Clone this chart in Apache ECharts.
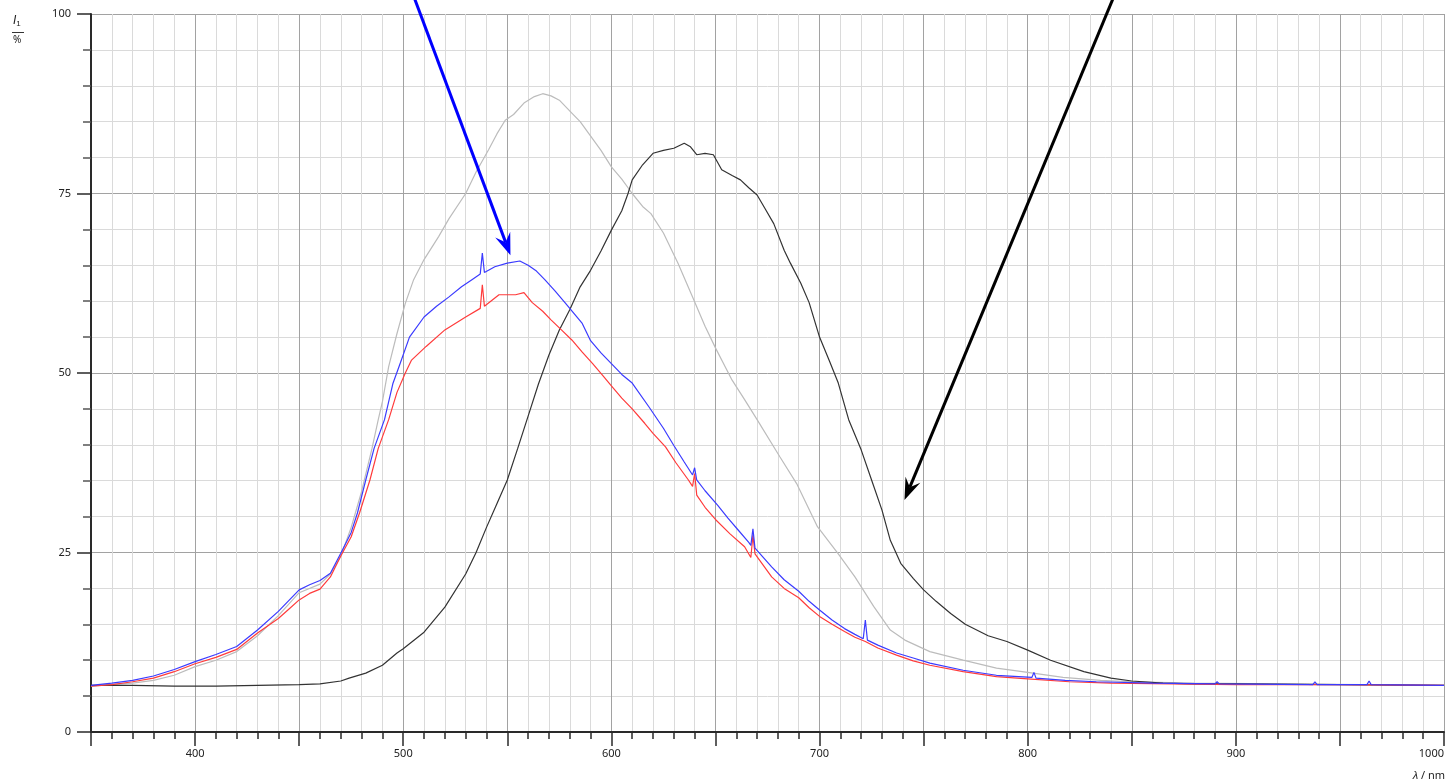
<!DOCTYPE html>
<html>
<head>
<meta charset="utf-8">
<script src="https://cdn.jsdelivr.net/npm/echarts@6/dist/echarts.min.js"></script>
<style>
  html, body { margin: 0; padding: 0; background: #fff; }
  #chart { width: 1447px; height: 783px; }
</style>
</head>
<body>
<div id="chart"></div>
<script>
// spectra: [wavelength nm, I1 %]
var darkSpec = [
  [350, 6.5], [370, 6.5], [390, 6.4], [410, 6.4], [430, 6.5], [450, 6.6], [460, 6.7], [470, 7.1],
  [474, 7.5], [482, 8.2], [490, 9.3], [497, 11], [500, 11.6], [510, 13.9], [520, 17.4], [530, 22], [535, 25], [540, 28.5],
  [545, 31.8], [550, 35.1], [555, 39.5], [560, 44], [565, 48.5], [570, 52.5], [575, 56], [580, 58.8],
  [585, 62], [590, 64.3], [595, 67], [600, 69.9], [605, 72.6], [608, 75], [610, 76.9], [615, 79],
  [620, 80.6], [625, 81], [630, 81.3], [635, 82], [638, 81.5], [641, 80.4], [645, 80.6], [649, 80.4],
  [653, 78.3], [658, 77.5], [662, 76.9], [666, 75.8], [670, 74.8], [674, 72.8], [678, 70.8], [683, 67.1],
  [686, 65.3], [691, 62.5], [695, 59.8], [700, 55], [705, 51.5], [709, 48.6], [714, 43.5], [720, 39.3],
  [725, 35.1], [730, 30.9], [734, 26.7], [739, 23.5], [745, 21.4], [750, 19.8], [756, 18.2], [763, 16.5],
  [770, 15], [781, 13.4], [790, 12.6], [800, 11.4], [811, 10], [827, 8.4], [840, 7.5],
  [850, 7.1], [865, 6.8], [880, 6.7], [900, 6.7], [950, 6.6], [1000, 6.5]
];
var graySpec = [
  [350, 6.4], [370, 6.8], [380, 7.2], [390, 7.9], [400, 9.1], [410, 10], [420, 11.2], [430, 13.4],
  [440, 16.2], [450, 19.4], [460, 20.6], [465, 22], [470, 24.5], [475, 28.5], [480, 33.5], [485, 39.5],
  [488, 43.5], [490, 46], [493, 50.9], [497, 55.5], [501, 59.7], [505, 63], [510, 65.8], [517, 69],
  [522, 71.5], [530, 75], [535, 78], [541, 81.1], [545, 83.3], [549, 85.2], [553, 86], [558, 87.6],
  [563, 88.5], [567, 88.9], [571, 88.6], [575, 88], [581, 86.2], [585, 85], [589, 83.4], [595, 81],
  [600, 78.7], [605, 77], [610, 75], [615, 73.2], [619, 72.2], [625, 69.5], [632, 65.3], [639, 60.6],
  [645, 56.5], [650, 53.5], [658, 49], [664, 46.3], [670, 43.5], [681, 38.3], [689, 34.6], [699, 28.6],
  [709, 24.8], [717, 21.6], [726, 17.5], [734, 14.2], [741, 12.8], [753, 11.2], [769, 10], [785, 8.9],
  [800, 8.3], [817, 7.6], [835, 7.2], [850, 7], [880, 6.8], [920, 6.7], [960, 6.6], [1000, 6.5]
];
var blueSpec = [
  [350, 6.5], [360, 6.8], [370, 7.2], [380, 7.8], [390, 8.7], [400, 9.8], [410, 10.8], [420, 11.9],
  [430, 14.2], [440, 16.8], [445, 18.3], [450, 19.8], [455, 20.5], [460, 21.1], [465, 22.1], [470, 24.9],
  [475, 27.8], [478, 30.5], [482, 35.1], [486, 39.5], [491, 43.5], [495, 48.5], [498, 50.9], [503, 55],
  [510, 57.8], [516, 59.3], [522, 60.6], [528, 62], [533, 63], [537, 63.8], [538, 66.7], [539, 64],
  [544, 64.8], [550, 65.3], [556, 65.6], [560, 65], [564, 64.2], [568, 63], [573, 61.4], [578, 59.7],
  [586, 56.9], [590, 54.5], [595, 52.8], [600, 51.3], [605, 49.8], [610, 48.6], [618, 45.3], [625, 42.3],
  [630, 39.9], [635, 37.6], [639, 35.8], [640, 36.8], [641, 35.1], [645, 33.6], [651, 31.6], [656, 29.8],
  [661, 28.1], [666, 26.4], [667, 26], [668, 28.3], [669, 25.6], [677, 23], [683, 21.2], [690, 19.6],
  [695, 18.2], [700, 17], [706, 15.6], [712, 14.4], [717, 13.6], [721, 13], [722, 15.6], [723, 12.8],
  [728, 12.1], [737, 11], [745, 10.3], [753, 9.6], [769, 8.6], [785, 7.9],
  [802, 7.6], [803, 8.3], [804, 7.5], [818, 7.2], [833, 7], [860, 6.8], [890, 6.7], [891, 7.0],
  [892, 6.7], [937, 6.6], [938, 7], [939, 6.6], [963, 6.6], [964, 7.1], [965, 6.6], [1000, 6.5]
];
var redSpec = [
  [350, 6.4], [360, 6.6], [370, 7], [380, 7.5], [390, 8.4], [400, 9.5], [410, 10.4], [420, 11.5],
  [430, 13.8], [440, 15.8], [445, 17.1], [450, 18.4], [455, 19.3], [460, 19.9], [465, 21.6], [470, 24.5],
  [475, 27.2], [479, 30.5], [484, 35.1], [488, 39.5], [493, 43.5], [497, 47.3], [501, 50], [504, 51.8],
  [511, 53.7], [520, 56], [530, 57.8], [537, 59], [538, 62.3], [539, 59.3], [546, 60.9], [554, 60.9],
  [558, 61.2], [562, 59.8], [567, 58.6], [571, 57.4], [576, 56], [581, 54.6], [586, 52.9], [591, 51.3],
  [596, 49.6], [600, 48.2], [605, 46.5], [610, 45], [616, 43], [620, 41.6], [626, 39.7], [631, 37.5],
  [637, 35.1], [639, 34.2], [640, 36], [641, 33], [645, 31.3], [650, 29.6], [657, 27.6], [664, 25.8],
  [667, 24.3], [668, 27.4], [669, 24.8], [677, 21.6], [683, 20], [690, 18.7], [695, 17.3], [700, 16.1],
  [706, 15], [712, 14], [717, 13.2], [722, 12.6], [728, 11.7], [737, 10.7], [745, 9.9],
  [753, 9.3], [769, 8.4], [785, 7.7], [800, 7.4], [820, 7], [840, 6.8], [870, 6.7], [900, 6.6],
  [950, 6.6], [1000, 6.5]
];
// annotation arrows in data coords: [start, tip]
var blueArrow = [[505, 102.5], [551.5, 66.4]];
var blackArrow = [[841.5, 102.5], [740.8, 32.3]];

var font = 'Noto Sans';
var chart = echarts.init(document.getElementById('chart'));

function spec(name, data, color) {
  return {
    name: name, type: 'line', data: data, showSymbol: false, symbol: 'none',
    lineStyle: { color: color, width: 1.2 }, animation: false
  };
}

chart.setOption({
  animation: false,
  grid: { left: 91, right: 0, top: 14, bottom: 51 },
  xAxis: {
    type: 'value', min: 350, max: 1000, interval: 50,
    axisLine: { show: true, lineStyle: { color: '#2a2a2a', width: 2 } },
    axisTick: { show: true, length: 14, lineStyle: { color: '#2a2a2a', width: 1.5 } },
    minorTick: { show: true, splitNumber: 5, length: 7, lineStyle: { color: '#2a2a2a', width: 1.5 } },
    axisLabel: {
      margin: 16, fontFamily: font, fontSize: 11, color: '#222', alignMaxLabel: 'right',
      formatter: function (v) { return v % 100 === 0 ? String(v) : ''; }
    },
    splitLine: { show: true, lineStyle: { color: '#a2a2a2', width: 1 } },
    minorSplitLine: { show: true, lineStyle: { color: '#dadada', width: 1 } }
  },
  yAxis: {
    type: 'value', min: 0, max: 100, interval: 25,
    axisLine: { show: true, lineStyle: { color: '#2a2a2a', width: 2 } },
    axisTick: { show: true, length: 14, lineStyle: { color: '#2a2a2a', width: 1.5 } },
    minorTick: { show: true, splitNumber: 5, length: 8, lineStyle: { color: '#555', width: 1.5 } },
    axisLabel: { margin: 20, fontFamily: font, fontSize: 11, color: '#222' },
    splitLine: { show: true, lineStyle: { color: '#a2a2a2', width: 1 } },
    minorSplitLine: { show: true, lineStyle: { color: '#dadada', width: 1 } }
  },
  series: [
    spec('gray', graySpec, '#bcbcbc'),
    spec('dark', darkSpec, '#333333'),
    spec('red', redSpec, '#ff3b3b'),
    spec('blue', blueSpec, '#3b3bff')
  ]
});

function arrow(pts, color) {
  var a = chart.convertToPixel({ gridIndex: 0 }, pts[0]);
  var b = chart.convertToPixel({ gridIndex: 0 }, pts[1]);
  var dx = b[0] - a[0], dy = b[1] - a[1];
  var len = Math.sqrt(dx * dx + dy * dy);
  var ux = dx / len, uy = dy / len, nx = -uy, ny = ux;
  var headLen = 22, headW = 8, notch = 14;
  var back = [b[0] - ux * headLen, b[1] - uy * headLen];
  var mid = [b[0] - ux * notch, b[1] - uy * notch];
  return [{
    type: 'line', z: 100,
    shape: { x1: a[0], y1: a[1], x2: mid[0], y2: mid[1] },
    style: { stroke: color, lineWidth: 3 }
  }, {
    type: 'polygon', z: 100,
    shape: { points: [b, [back[0] + nx * headW, back[1] + ny * headW], mid, [back[0] - nx * headW, back[1] - ny * headW]] },
    style: { fill: color }
  }];
}

chart.setOption({
  graphic: arrow(blueArrow, '#0000ff').concat(arrow(blackArrow, '#000000')).concat([
    {
      type: 'text', left: 13, top: 15,
      style: {
        text: '{i|I}{s|1}', fontFamily: font,
        rich: {
          i: { fontSize: 12, fontStyle: 'italic', fill: '#222' },
          s: { fontSize: 8, fill: '#222', verticalAlign: 'bottom', padding: [5, 0, 0, 0] }
        }
      }
    },
    { type: 'rect', left: 12, top: 32, shape: { width: 12, height: 1 }, style: { fill: '#333' } },
    { type: 'text', left: 13, top: 35, style: { text: '%', fontFamily: font, fontSize: 10, fill: '#222' } },
    {
      type: 'text', right: 2, top: 770,
      style: {
        text: '{l|λ} / nm', fontFamily: font, fontSize: 11, fill: '#222',
        rich: { l: { fontStyle: 'italic', fontSize: 11, fill: '#222' } }
      }
    }
  ])
});
</script>
</body>
</html>
